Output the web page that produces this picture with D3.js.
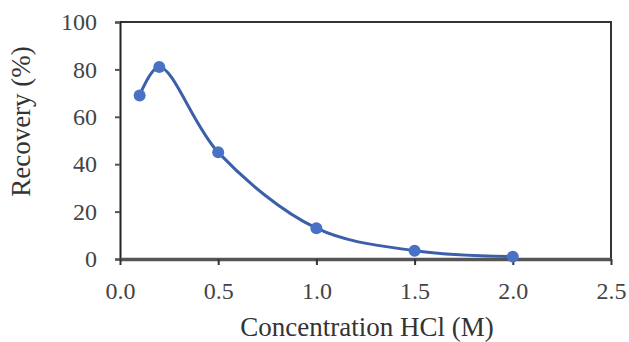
<!DOCTYPE html>
<html>
<head>
<meta charset="utf-8">
<script src="https://cdn.jsdelivr.net/npm/d3@7"></script>
</head>
<body style="margin:0;background:#fff">
<div id="chart"></div>
<script>
// data
const concentration = [0.1, 0.2, 0.5, 1.0, 1.5, 2.0];
const recovery = [69, 81, 45, 13, 3.5, 1];
const xTicks = [0, 0.5, 1.0, 1.5, 2.0, 2.5];
const yTicks = [0, 20, 40, 60, 80, 100];

const width = 629, height = 342;
const margin = {top: 22, right: 18, bottom: 83, left: 120};
const FONT = '"Liberation Serif"';

const svg = d3.select('#chart').append('svg')
  .attr('width', width)
  .attr('height', height);

const x = d3.scaleLinear().domain([0, 2.5]).range([margin.left, width - margin.right]);
const y = d3.scaleLinear().domain([0, 100]).range([height - margin.bottom, margin.top]);

// frame (top + right)
svg.append('path')
  .attr('d', `M${x(0)},${y(100)}H${x(2.5)}V${y(0)}`)
  .attr('fill', 'none')
  .attr('stroke', '#333')
  .attr('stroke-width', 2);

// y axis
const yAxis = svg.append('g')
  .attr('transform', `translate(${x(0)},0)`)
  .call(d3.axisLeft(y).tickValues(yTicks).tickSize(5).tickPadding(18).tickFormat(d3.format('d')));
yAxis.select('.domain').attr('stroke', '#222').attr('stroke-width', 2);
yAxis.selectAll('.tick line').attr('stroke', '#555').attr('stroke-width', 2);
yAxis.selectAll('text')
  .style('font-family', FONT)
  .style('font-size', '24px')
  .attr('fill', '#444');

// x axis
const xAxis = svg.append('g')
  .attr('transform', `translate(0,${y(0)})`)
  .call(d3.axisBottom(x).tickValues(xTicks).tickSize(6).tickSizeOuter(0).tickPadding(17).tickFormat(d3.format('.1f')));
xAxis.select('.domain').attr('stroke', '#555').attr('stroke-width', 3.5);
xAxis.selectAll('.tick line').attr('stroke', '#333').attr('stroke-width', 2);
xAxis.selectAll('text')
  .style('font-family', FONT)
  .style('font-size', '24px')
  .attr('fill', '#444');

// axis titles
svg.append('text')
  .attr('transform', `translate(30,${(y(0) + y(100)) / 2 - 19}) rotate(-90)`)
  .attr('text-anchor', 'middle')
  .style('font-family', FONT)
  .style('font-size', '27px')
  .attr('fill', '#333')
  .text('Recovery (%)');

svg.append('text')
  .attr('x', 367)
  .attr('y', 336)
  .attr('text-anchor', 'middle')
  .style('font-family', FONT)
  .style('font-size', '27px')
  .attr('fill', '#333')
  .text('Concentration HCl (M)');

const pts = concentration.map((c, i) => [c, recovery[i]]);

const line = d3.line()
  .x(d => x(d[0]))
  .y(d => y(d[1]))
  .curve(d3.curveCatmullRom.alpha(0.5));

svg.append('path')
  .datum(pts)
  .attr('d', line)
  .attr('fill', 'none')
  .attr('stroke', '#3b5fa8')
  .attr('stroke-width', 3);

svg.selectAll('.pt').data(pts).enter()
  .append('circle')
  .attr('class', 'pt')
  .attr('cx', d => x(d[0]))
  .attr('cy', d => y(d[1]))
  .attr('r', 6)
  .attr('fill', '#4a72c4');
</script>
</body>
</html>
